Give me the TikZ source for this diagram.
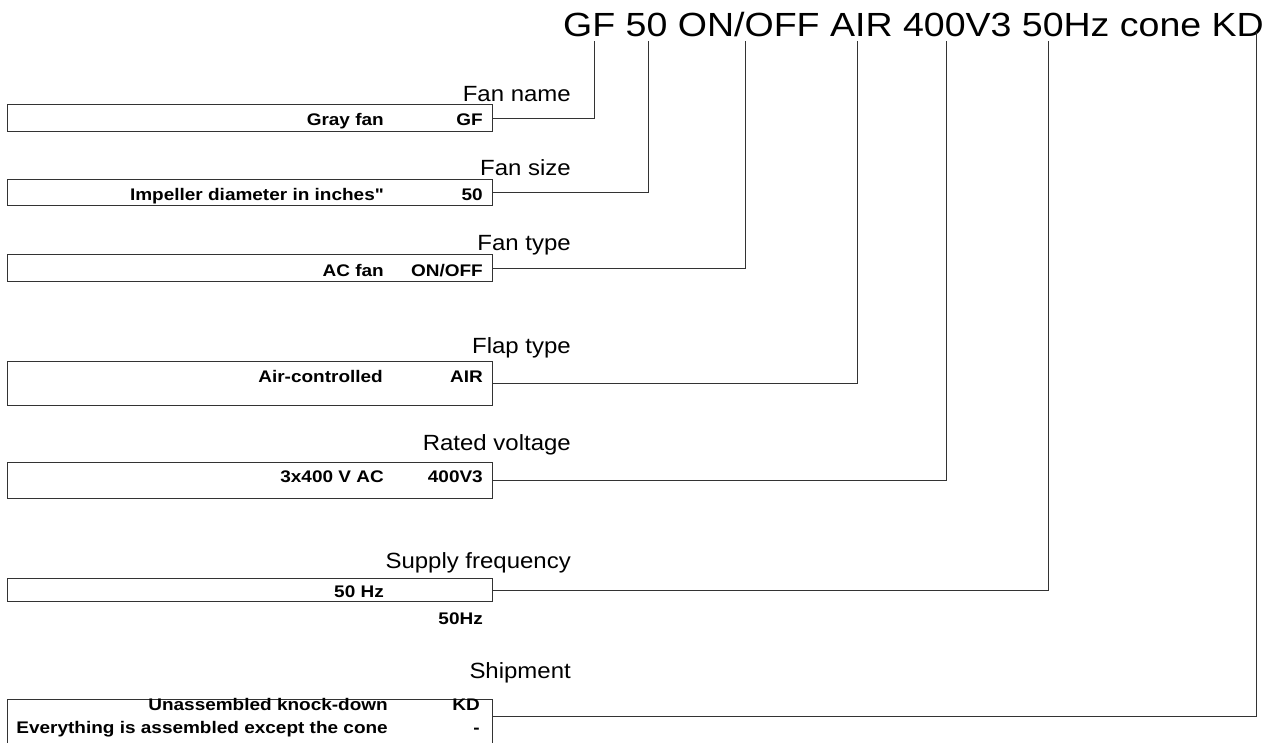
\documentclass[tikz,border=0pt]{standalone}
\usepackage{fontspec}
\setmainfont{Liberation Sans}[FakeStretch=1.13]
\newfontfamily\titlefont{Liberation Sans}[FakeStretch=1.12]
\newfontfamily\lblfont{Liberation Sans}[FakeStretch=1.09]
\tikzset{
  box/.style={draw=black!80,line width=0.8pt,anchor=north west,inner sep=0pt,minimum width=485pt},
  lbl/.style={anchor=base east,inner sep=0pt,font=\lblfont\fontsize{22}{26}\selectfont},
  val/.style={anchor=base east,inner sep=0pt,font=\fontsize{16.8}{20}\selectfont\bfseries},
  link/.style={draw=black!80,line width=0.8pt}
}
\begin{document}
\begin{tikzpicture}[x=1pt,y=-1pt]
    \useasboundingbox (0,0) rectangle (1273,742);
    \clip (0,0) rectangle (1273,742);
    % type code
    \node[anchor=base west,inner sep=0pt,font=\titlefont\fontsize{33.5}{40}\selectfont] (title) at (563,36) {GF 50 ON/OFF AIR 400V3 50Hz cone KD};
    \coordinate (tGF) at (594,41);
    \coordinate (tSize) at (648,41);
    \coordinate (tType) at (745,41);
    \coordinate (tFlap) at (857,41);
    \coordinate (tVolt) at (946,41);
    \coordinate (tFreq) at (1048,41);
    \coordinate (tShip) at (1256,32);
    % fan name
    \node[lbl] (lName) at (571,101) {Fan name};
    \node[box,minimum height=27pt] (bName) at (7,104) {};
    \node[val] (vName) at (384,125) {Gray fan};
    \node[val] (cName) at (483,125) {GF};
    % fan size
    \node[lbl] (lSize) at (571,175) {Fan size};
    \node[box,minimum height=26pt] (bSize) at (7,179) {};
    \node[val] (vSize) at (383,200) {Impeller diameter in inches\textquotedbl};
    \node[val] (cSize) at (483,200) {50};
    % fan type
    \node[lbl] (lType) at (571,250) {Fan type};
    \node[box,minimum height=27pt] (bType) at (7,254) {};
    \node[val] (vType) at (384,276) {AC fan};
    \node[val] (cType) at (483,276) {ON/OFF};
    % flap type
    \node[lbl] (lFlap) at (571,353) {Flap type};
    \node[box,minimum height=44pt] (bFlap) at (7,361) {};
    \node[val] (vFlap) at (383,382) {Air-controlled};
    \node[val] (cFlap) at (483,382) {AIR};
    % rated voltage
    \node[lbl] (lVolt) at (571,450) {Rated voltage};
    \node[box,minimum height=36pt] (bVolt) at (7,462) {};
    \node[val] (vVolt) at (384,482) {3x400 V AC};
    \node[val] (cVolt) at (483,482) {400V3};
    % supply frequency
    \node[lbl] (lFreq) at (571,568) {Supply frequency};
    \node[box,minimum height=23pt] (bFreq) at (7,578) {};
    \node[val] (vFreq) at (384,597) {50 Hz};
    \node[val] (cFreq) at (483,624) {50Hz};
    % shipment
    \node[lbl] (lShip) at (571,678) {Shipment};
    \node[box,minimum height=61pt] (bShip) at (7,699) {};
    \coordinate (sShip) at (492,716);
    \node[val] (vShip) at (388,710) {Unassembled knock-down};
    \node[val] (cShip) at (480,710) {KD};
    \node[val] (vShipB) at (388,733) {Everything is assembled except the cone};
    \node[val] (cShipB) at (480,733) {-};
    % connectors
    \draw[link] (tGF) |- (bName.east);
    \draw[link] (tSize) |- (bSize.east);
    \draw[link] (tType) |- (bType.east);
    \draw[link] (tFlap) |- (bFlap.east);
    \draw[link] (tVolt) |- (bVolt.east);
    \draw[link] (tFreq) |- (bFreq.east);
    \draw[link] (tShip) |- (sShip);
\end{tikzpicture}
\end{document}
